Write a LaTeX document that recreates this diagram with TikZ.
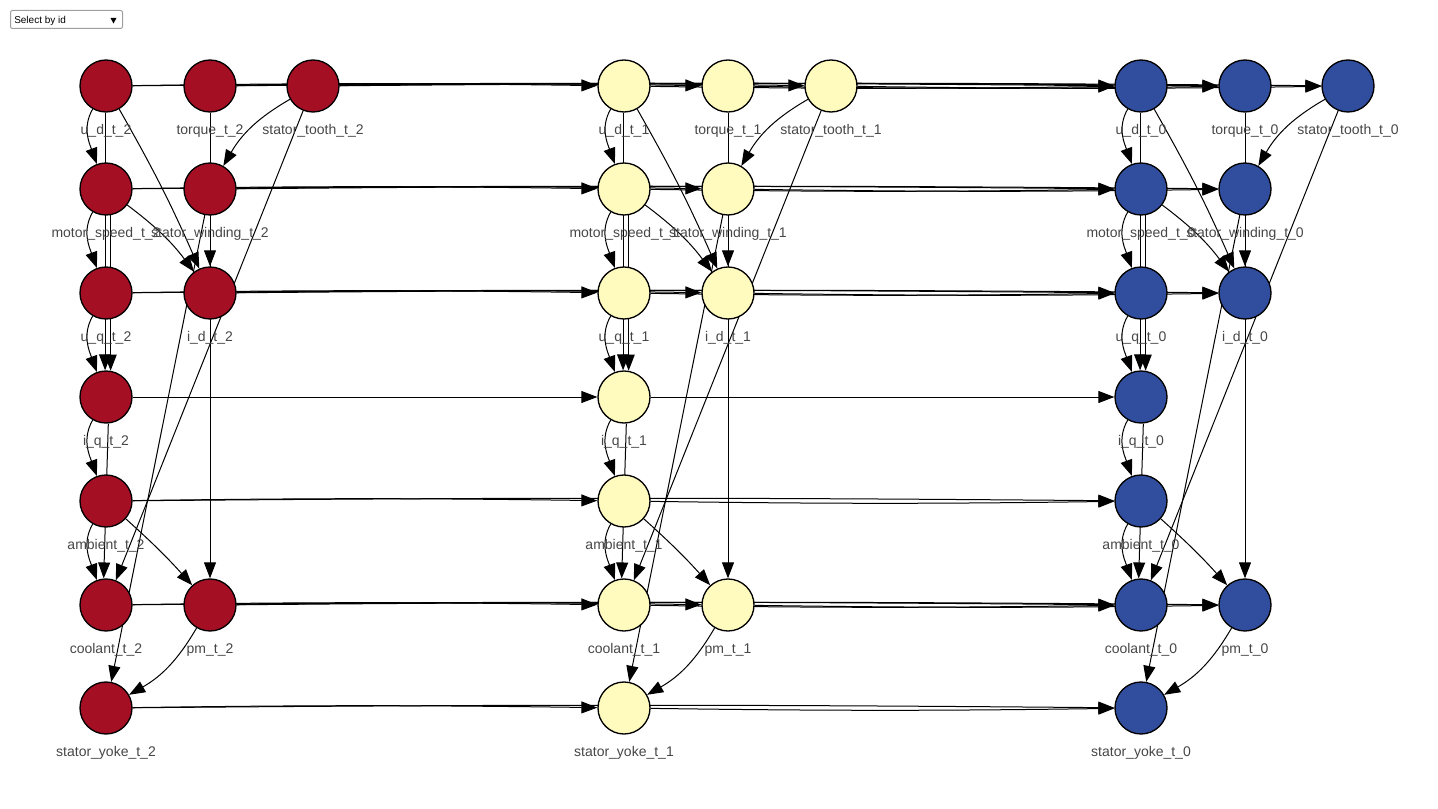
\documentclass[tikz,border=0pt]{standalone}
\usepackage{fontspec}
\setmainfont{Liberation Sans}
\usetikzlibrary{arrows.meta}
\pgfdeclarelayer{bg}
\pgfsetlayers{bg,main}
\definecolor{cred}{RGB}{165,15,36}
\definecolor{cyel}{RGB}{255,251,190}
\definecolor{cblu}{RGB}{49,78,158}
\definecolor{lblgray}{RGB}{70,70,70}
\begin{document}
\begin{tikzpicture}[x=0.75pt,y=0.75pt,
  vn/.style={circle,draw=black,line width=1pt,minimum size=39pt,inner sep=0pt},
  lbl/.style={text=lblgray,font=\fontsize{10.5}{12}\selectfont,inner sep=0pt},
  e/.style={draw=black,line width=0.75pt,-{Triangle[length=12pt,width=9pt]}},
]
\useasboundingbox (0,0) rectangle (1438,808);

% select box
\draw[rounded corners=1.5pt,draw=gray!75,line width=0.75pt,fill=white] (10.5,797.5) rectangle (122.5,779.5);
\node[anchor=west,font=\fontsize{7.5}{9}\selectfont,inner sep=0pt] (sel) at (14,787) {Select by id};
\fill[black] (110.5,790) -- (116.5,790) -- (113.5,784.5) -- cycle;

% nodes and labels
\foreach \s/\ox/\col in {2/0/cred,1/518/cyel,0/1035/cblu}{
  \node[vn,fill=\col] (ud\s) at (106+\ox,722) {};
  \node[vn,fill=\col] (tq\s) at (210+\ox,722) {};
  \node[vn,fill=\col] (st\s) at (313+\ox,722) {};
  \node[vn,fill=\col] (ms\s) at (106+\ox,619) {};
  \node[vn,fill=\col] (sw\s) at (210+\ox,619) {};
  \node[vn,fill=\col] (uq\s) at (106+\ox,515) {};
  \node[vn,fill=\col] (id\s) at (210+\ox,515) {};
  \node[vn,fill=\col] (iq\s) at (106+\ox,411) {};
  \node[vn,fill=\col] (am\s) at (106+\ox,307) {};
  \node[vn,fill=\col] (co\s) at (106+\ox,203) {};
  \node[vn,fill=\col] (pm\s) at (210+\ox,203) {};
  \node[vn,fill=\col] (sy\s) at (106+\ox,100) {};
  \node[lbl] (lud\s) at (106+\ox,677) {u\_d\_t\_\s};
  \node[lbl] (ltq\s) at (210+\ox,677) {torque\_t\_\s};
  \node[lbl] (lst\s) at (313+\ox,677) {stator\_tooth\_t\_\s};
  \node[lbl] (lms\s) at (106+\ox,574) {motor\_speed\_t\_\s};
  \node[lbl] (lsw\s) at (210+\ox,574) {stator\_winding\_t\_\s};
  \node[lbl] (luq\s) at (106+\ox,470) {u\_q\_t\_\s};
  \node[lbl] (lid\s) at (210+\ox,470) {i\_d\_t\_\s};
  \node[lbl] (liq\s) at (106+\ox,366) {i\_q\_t\_\s};
  \node[lbl] (lam\s) at (106+\ox,262) {ambient\_t\_\s};
  \node[lbl] (lco\s) at (106+\ox,158) {coolant\_t\_\s};
  \node[lbl] (lpm\s) at (210+\ox,158) {pm\_t\_\s};
  \node[lbl] (lsy\s) at (106+\ox,55) {stator\_yoke\_t\_\s};
}

\begin{pgfonlayer}{bg}
% edges inside each slice
\foreach \s in {2,1,0}{
  \draw[e] (ud\s) to[out=240,in=110] (ms\s);
  \draw[e] (ms\s) to[out=240,in=110] (uq\s);
  \draw[e] (uq\s) to[out=240,in=110] (iq\s);
  \draw[e] (iq\s) to[out=240,in=110] (am\s);
  \draw[e] (am\s) to[out=240,in=110] (co\s);
  \draw[e] (ud\s.268) -- (iq\s.92);
  \draw[e] (ms\s.280) -- (iq\s.80);
  \draw[e] (iq\s.275) -- (co\s.95);
  \draw[e] (ud\s) to[bend left=3] (id\s);
  \draw[e] (ms\s) to[bend left=8] (id\s);
  \draw[e] (tq\s) -- (pm\s);
  \draw[e] (sw\s) -- (id\s);
  \draw[e] (st\s) to[out=210,in=60] (sw\s);
  \draw[e] (st\s) -- (co\s);
  \draw[e] (sw\s) -- (sy\s);
  \draw[e] (am\s) to[bend left=3] (pm\s);
  \draw[e] (pm\s) to[bend left=15] (sy\s);
}
% edges between slices
\foreach \v in {ud,tq,st,ms,sw,uq,id,am,co,pm,sy}{
  \draw[e] (\v2) to[bend left=0.8] (\v1);
  \draw[e] (\v1) to[bend right=0.8] (\v0);
  \draw[e] (\v2) to[bend left=0.5] (\v0);
}
\draw[e] (iq2) -- (iq1);
\draw[e] (iq1) -- (iq0);
\end{pgfonlayer}
\end{tikzpicture}
\end{document}
